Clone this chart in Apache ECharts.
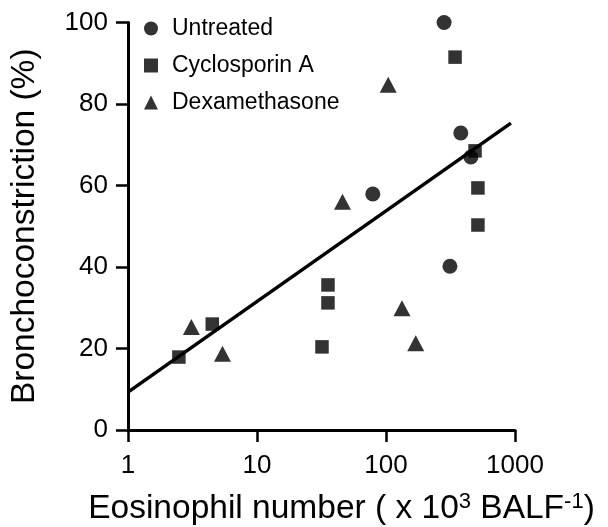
<!DOCTYPE html>
<html>
<head>
<meta charset="utf-8">
<script src="https://cdn.jsdelivr.net/npm/echarts@6/dist/echarts.min.js"></script>
<style>
html,body{margin:0;padding:0;background:#fff;}
#chart{width:608px;height:527px;}
</style>
</head>
<body>
<div id="chart"></div>
<script>
// Data
const seriesNames = ['Untreated', 'Cyclosporin A', 'Dexamethasone'];
const untreated = [[282, 100], [380, 72.9], [455, 67], [79, 57.9], [313, 40.2]];
const cyclosporin = [[343, 91.5], [490, 68.5], [516, 59.4], [516, 50.3], [35.5, 35.6], [35.5, 31.2], [31.9, 20.4], [4.5, 26.0], [2.48, 17.9]];
const dexamethasone = [[104, 84.7], [46, 56], [3.1, 25.3], [5.4, 18.7], [133, 29.9], [170, 21.3]];
const regressionLine = [[1, 9.3], [930, 75.3]];
const xTicks = [1, 10, 100, 1000];
const yTicks = [0, 20, 40, 60, 80, 100];

const FONT = '"Liberation Sans", Arial, Helvetica, sans-serif';
const chart = echarts.init(document.getElementById('chart'), null, {renderer: 'canvas'});

chart.setOption({
  backgroundColor: '#fff',
  animation: false,
  textStyle: {fontFamily: FONT, color: '#000'},
  grid: {left: 128, right: 93, top: 22.5, bottom: 97, containLabel: false, outerBoundsMode: 'none'},
  legend: {
    orient: 'vertical',
    left: 139,
    top: 12,
    itemWidth: 14,
    itemHeight: 14,
    itemGap: 14,
    textStyle: {fontFamily: FONT, fontSize: 23, color: '#000', padding: [0, 0, 0, 9], lineHeight: 23},
    data: [
      {name: seriesNames[0], icon: 'circle'},
      {name: seriesNames[1], icon: 'rect'},
      {name: seriesNames[2], icon: 'triangle'}
    ]
  },
  xAxis: {
    type: 'log',
    logBase: 10,
    min: xTicks[0],
    max: xTicks[xTicks.length - 1],
    name: 'Eosinophil number ( x 10{sup|3} BALF{sup|-1})',
    nameLocation: 'middle',
    nameGap: 61,
    nameTextStyle: {
      fontFamily: FONT, fontSize: 33.5, color: '#000', padding: [0, 0, 0, 40],
      rich: {sup: {fontFamily: FONT, fontSize: 22, color: '#000', verticalAlign: 'top', padding: [0, 0, 14, 0]}}
    },
    axisLine: {lineStyle: {color: '#000', width: 3}},
    axisTick: {show: true, length: 12, lineStyle: {color: '#000', width: 2.5}},
    minorTick: {show: false},
    splitLine: {show: false},
    axisLabel: {fontFamily: FONT, fontSize: 26, color: '#000', margin: 23,
      formatter: function (v) { return String(Math.round(v)); }}
  },
  yAxis: {
    type: 'value',
    min: yTicks[0],
    max: yTicks[yTicks.length - 1],
    interval: 20,
    name: 'Bronchoconstriction (%)',
    nameLocation: 'middle',
    nameGap: 86,
    nameTextStyle: {fontFamily: FONT, fontSize: 33.5, color: '#000'},
    axisLine: {show: true, lineStyle: {color: '#000', width: 3}},
    axisTick: {show: true, length: 12, lineStyle: {color: '#000', width: 2.5}},
    splitLine: {show: false},
    axisLabel: {fontFamily: FONT, fontSize: 26, color: '#000', margin: 20}
  },
  series: [
    {
      name: 'fit', type: 'line', data: regressionLine, symbol: 'none',
      lineStyle: {color: '#000', width: 3.5}, silent: true, z: 1
    },
    {
      name: seriesNames[0], type: 'scatter', data: untreated, symbol: 'circle', symbolSize: 15,
      itemStyle: {color: '#000'}, z: 3
    },
    {
      name: seriesNames[1], type: 'scatter', data: cyclosporin, symbol: 'rect', symbolSize: 13.5,
      itemStyle: {color: '#000'}, z: 3
    },
    {
      name: seriesNames[2], type: 'scatter', data: dexamethasone, symbol: 'triangle', symbolSize: [17, 16],
      itemStyle: {color: '#000'}, z: 3
    }
  ]
});
</script>
</body>
</html>
